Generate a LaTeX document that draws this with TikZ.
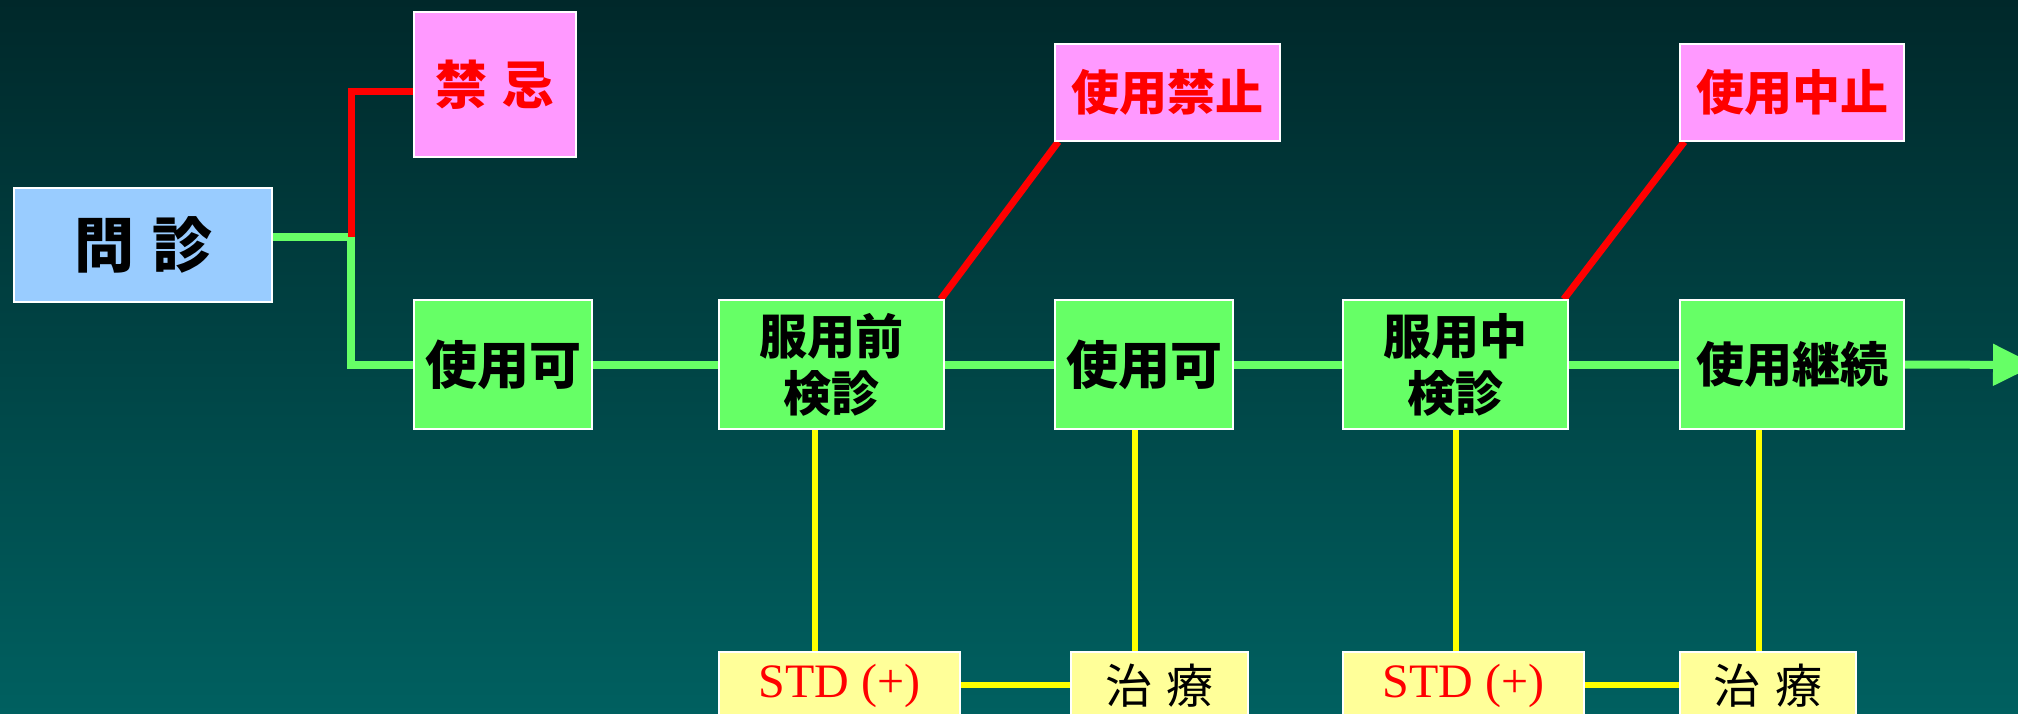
\documentclass[tikz,border=0pt]{standalone}
\usepackage{fontspec}
\setmainfont{Liberation Serif}
\newfontfamily\jp{Noto Sans CJK JP}
\usetikzlibrary{arrows.meta}
\definecolor{bgtop}{RGB}{0,40,42}
\definecolor{bgbot}{RGB}{0,96,96}
\definecolor{boxgreen}{RGB}{102,255,102}
\definecolor{boxpink}{RGB}{255,153,255}
\definecolor{boxblue}{RGB}{153,204,255}
\definecolor{boxyellow}{RGB}{255,255,153}
\definecolor{lgreen}{RGB}{102,255,102}
\definecolor{lred}{RGB}{255,0,0}
\definecolor{lyellow}{RGB}{255,255,0}
\pgfdeclarelayer{bglayer}
\pgfdeclarelayer{linelayer}
\pgfsetlayers{bglayer,linelayer,main}
\tikzset{
  box/.style={draw=white, line width=1.5pt, inner sep=0pt, align=center},
  gbox/.style={box, fill=boxgreen, minimum height=129pt, text=black,
    font=\jp\bfseries\fontsize{52}{56}\selectfont},
  gbox2/.style={gbox, font=\jp\bfseries\fontsize{48}{57}\selectfont},
  pbox/.style={box, fill=boxpink, text=lred},
  ybox/.style={box, fill=boxyellow, minimum height=68pt},
  gline/.style={draw=lgreen, line width=8pt},
  rline/.style={draw=lred, line width=7pt},
  yline/.style={draw=lyellow, line width=6.5pt},
}
\begin{document}
\begin{tikzpicture}[x=1pt,y=-1pt]
\useasboundingbox (0,0) rectangle (2018,714);
\begin{pgfonlayer}{bglayer}
\shade[top color=bgtop, bottom color=bgbot] (0,0) rectangle (2018,714);
\end{pgfonlayer}
% nodes
\node[box, fill=boxblue, minimum width=258pt, minimum height=114pt,
  font=\jp\bfseries\fontsize{60}{66}\selectfont] (q) at (143,245) {問\hspace{0.3em}診};
\node[pbox, minimum width=162pt, minimum height=145pt,
  font=\jp\bfseries\fontsize{52}{58}\selectfont] (kin) at (495,84.5) {禁\hspace{0.27em}忌};
\node[gbox, minimum width=178pt] (ka1) at (503,364.5) {使用可};
\node[gbox2, minimum width=225pt] (pre) at (831.5,364.5) {服用前\\検診};
\node[pbox, minimum width=225pt, minimum height=97pt,
  font=\jp\bfseries\fontsize{48}{52}\selectfont] (stop1) at (1167.5,92.5) {使用禁止};
\node[gbox, minimum width=178pt] (ka2) at (1144,364.5) {使用可};
\node[gbox2, minimum width=225pt] (mid) at (1455.5,364.5) {服用中\\検診};
\node[pbox, minimum width=224pt, minimum height=97pt,
  font=\jp\bfseries\fontsize{48}{52}\selectfont] (stop2) at (1792,92.5) {使用中止};
\node[gbox, minimum width=224pt, font=\jp\bfseries\fontsize{48}{52}\selectfont] (cont) at (1792,364.5) {使用継続};
\node[ybox, minimum width=241pt, text=lred, font=\fontsize{48}{52}\selectfont] (std1) at (839.5,686) {STD (+)};
\node[ybox, minimum width=177pt, text=black, font=\jp\fontsize{47}{52}\selectfont] (tr1) at (1159.5,686) {治\hspace{0.3em}療};
\node[ybox, minimum width=241pt, text=lred, font=\fontsize{48}{52}\selectfont] (std2) at (1463.5,686) {STD (+)};
\node[ybox, minimum width=176pt, text=black, font=\jp\fontsize{47}{52}\selectfont] (tr2) at (1768,686) {治\hspace{0.3em}療};
% connectors (behind boxes)
\coordinate (j) at (351,237);
\coordinate (jr) at (351,92);
\coordinate (tip) at (2036,365);
\coordinate (yy) at (0,685);
\begin{pgfonlayer}{linelayer}
\draw[gline] (q.east |- j) -- (j) -- (j |- ka1.west) -- (ka1.west);
\draw[rline] (j) -- (jr) -- (kin.west |- jr);
\draw[gline] (ka1.east) -- (pre.west);
\draw[gline] (pre.east) -- (ka2.west);
\draw[gline] (ka2.east) -- (mid.west);
\draw[gline] (mid.east) -- (cont.west);
\draw[gline, -{Triangle[length=43pt,width=40pt]}] (cont.east) -- (tip);
\draw[rline] ([xshift=-4pt]pre.north east) -- ([xshift=4pt]stop1.south west);
\draw[rline] ([xshift=-5pt]mid.north east) -- ([xshift=5pt]stop2.south west);
\draw[yline] (pre.south -| 815,0) -- (std1.north -| 815,0);
\draw[yline] (ka2.south -| 1135,0) -- (tr1.north -| 1135,0);
\draw[yline] (mid.south -| 1456,0) -- (std2.north -| 1456,0);
\draw[yline] (cont.south -| 1759,0) -- (tr2.north -| 1759,0);
\draw[yline] (std1.east |- yy) -- (tr1.west |- yy);
\draw[yline] (std2.east |- yy) -- (tr2.west |- yy);
\end{pgfonlayer}
\end{tikzpicture}
\end{document}
